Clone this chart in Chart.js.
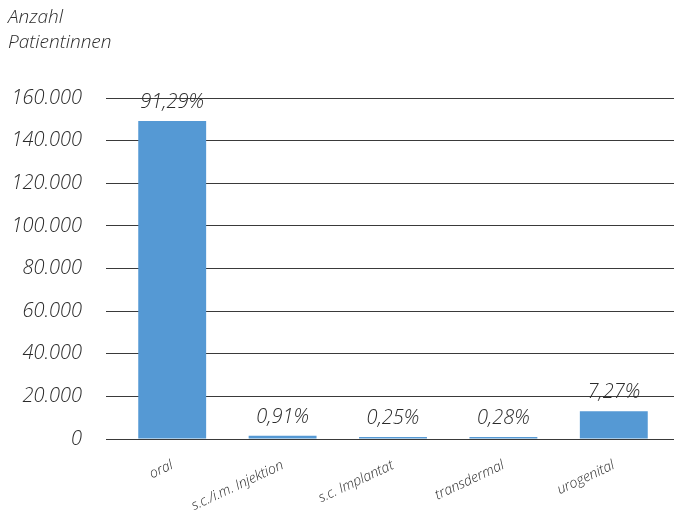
<!DOCTYPE html>
<html>
<head>
<meta charset="utf-8">
<script src="https://cdn.jsdelivr.net/npm/chart.js@4.4.1/dist/chart.umd.min.js"></script>
<style>
  html, body { margin: 0; padding: 0; background: #fff; }
  #wrap { width: 674px; height: 512px; position: relative; }
</style>
</head>
<body>
<div id="wrap"><canvas id="bar-chart"></canvas></div>
<script>
var categories = ["oral", "s.c./i.m. Injektion", "s.c. Implantat", "transdermal", "urogenital"];
var patients = [149200, 1500, 900, 950, 13000];
var shares = ["91,29%", "0,91%", "0,25%", "0,28%", "7,27%"];
var yTicks = [0, 20000, 40000, 60000, 80000, 100000, 120000, 140000, 160000];

(function () {
  'use strict';

  var fontFamily = "'Open Sans', 'Lato', sans-serif";
  var textColor = '#2b2b2b';
  var lineColor = '#3a3a3a';

  function fmt(v) {
    return v.toLocaleString('de-DE');
  }

  //percentages written above each bar
  var shareLabels = {
    id: 'shareLabels',
    afterDatasetsDraw: function (chart) {
      var ctx = chart.ctx;
      var meta = chart.getDatasetMeta(0);
      ctx.save();
      ctx.font = 'italic 300 20px ' + fontFamily;
      ctx.fillStyle = textColor;
      ctx.textAlign = 'center';
      ctx.textBaseline = 'middle';
      meta.data.forEach(function (bar, i) {
        ctx.fillText(shares[i], bar.x, bar.y - 19);
      });
      ctx.restore();
    }
  };

  var ctx = document.getElementById('bar-chart');

  new Chart(ctx, {
    type: 'bar',
    data: {
      labels: categories,
      datasets: [{
        data: patients,
        backgroundColor: '#5599d4',
        borderWidth: 0,
        categoryPercentage: 1,
        barPercentage: 0.615
      }]
    },
    options: {
      responsive: true,
      maintainAspectRatio: false,
      animation: false,
      layout: { padding: { left: 8, right: 0, top: 0, bottom: 0 } },
      plugins: {
        legend: { display: false },
        tooltip: { enabled: false },
        title: {
          display: true,
          text: ['Anzahl', 'Patientinnen'],
          align: 'start',
          color: textColor,
          font: { family: fontFamily, size: 19, style: 'italic', weight: 300, lineHeight: 25 / 19 },
          padding: { top: 5, bottom: 43 }
        }
      },
      scales: {
        x: {
          grid: { display: false },
          border: { display: false },
          ticks: {
            color: textColor,
            minRotation: 25,
            maxRotation: 25,
            padding: 10,
            font: { family: fontFamily, size: 14, style: 'italic', weight: 300 }
          },
          afterFit: function (scale) { scale.height = 73; }
        },
        y: {
          min: 0,
          max: 160000,
          afterBuildTicks: function (scale) {
            scale.ticks = yTicks.map(function (v) { return { value: v }; });
          },
          grid: { color: lineColor, lineWidth: 1, drawTicks: true, tickLength: 11 },
          border: { display: false },
          ticks: {
            color: textColor,
            padding: 24,
            font: { family: fontFamily, size: 20, style: 'italic', weight: 300 },
            callback: function (v) { return fmt(v); }
          },
          afterFit: function (scale) { scale.width = 109; }
        },
        yRight: {
          position: 'right',
          min: 0,
          max: 160000,
          afterBuildTicks: function (scale) {
            scale.ticks = yTicks.map(function (v) { return { value: v }; });
          },
          grid: { color: lineColor, lineWidth: 1, drawOnChartArea: false, drawTicks: true, tickLength: 5 },
          border: { display: false },
          ticks: { display: false },
          afterFit: function (scale) { scale.width = 5; }
        }
      }
    },
    plugins: [shareLabels]
  });
})();
</script>
</body>
</html>
